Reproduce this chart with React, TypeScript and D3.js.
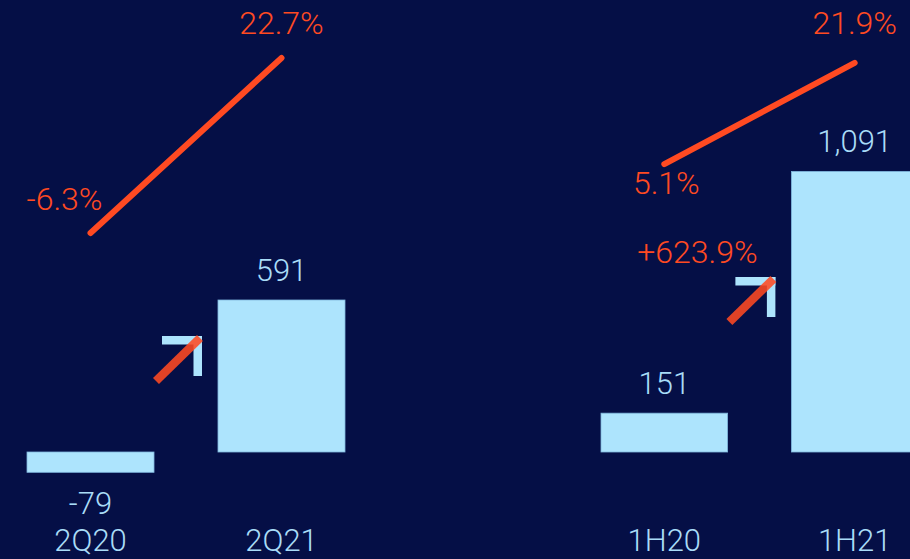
import React from "react";
import * as d3 from "d3";

// ---- data ----
const leftCategories = ["2Q20", "2Q21"];
const leftValues = [-79, 591];
const leftMargins = [-6.3, 22.7];
const leftValueLabels = ["-79", "591"];
const leftMarginLabels = ["-6.3%", "22.7%"];

const rightCategories = ["1H20", "1H21"];
const rightValues = [151, 1091];
const rightMargins = [5.1, 21.9];
const rightValueLabels = ["151", "1,091"];
const rightMarginLabels = ["5.1%", "21.9%"];
const rightGrowthLabel = "+623.9%";

const W = 910;
const H = 559;
const BG = "#050f46";
const BAR = "#ade4fd";
const BAR_STROKE = "#7fb6dc";
const TEXT = "#a9dcf7";
const RED = "#ff4a22";
const FONT = "Roboto, 'Liberation Sans', Arial, sans-serif";
const FW = 300;
const FS = 32;
const FS_SMALL = 31;

// shared scales
const yBar = d3.scaleLinear().domain([0, 591]).range([452, 300]);
const yLine = d3.scaleLinear().domain([-6.3, 22.7]).range([233, 58]);

type Panel = {
  cats: string[];
  vals: number[];
  margins: number[];
  valLabels: string[];
  marginLabels: string[];
  range: [number, number];
  marginLabelPos: { dx: number; dy: number; anchor: string }[];
  arrowDy: number;
  growth?: string;
};

const panels: Panel[] = [
  {
    cats: leftCategories,
    vals: leftValues,
    margins: leftMargins,
    valLabels: leftValueLabels,
    marginLabels: leftMarginLabels,
    range: [27, 345],
    marginLabelPos: [
      { dx: -26, dy: -23, anchor: "middle" },
      { dx: 0, dy: -24, anchor: "middle" },
    ],
    arrowDy: 336,
  },
  {
    cats: rightCategories,
    vals: rightValues,
    margins: rightMargins,
    valLabels: rightValueLabels,
    marginLabels: rightMarginLabels,
    range: [601, 918],
    marginLabelPos: [
      { dx: 2, dy: 30, anchor: "middle" },
      { dx: 0, dy: -29, anchor: "middle" },
    ],
    arrowDy: 277,
    growth: rightGrowthLabel,
  },
];

function PanelView({ p }: { p: Panel }) {
  const x = d3
    .scaleBand<string>()
    .domain(p.cats)
    .range(p.range)
    .paddingInner(0.335)
    .paddingOuter(0);
  const bw = x.bandwidth();
  const cx = (c: string) => (x(c) as number) + bw / 2;
  const line = d3
    .line<number>()
    .x((_, i) => cx(p.cats[i]))
    .y((d) => yLine(d));

  const gapRight = x(p.cats[1]) as number;
  const ax = gapRight - 16; // corner x
  const ay = p.arrowDy; // corner y
  const arrowSize = 40;
  const thick = 8.5;

  return (
    <g>
      {p.vals.map((v, i) => {
        const y0 = yBar(0);
        const y1 = yBar(v);
        return (
          <rect
            key={p.cats[i]}
            x={x(p.cats[i])}
            y={Math.min(y0, y1)}
            width={bw}
            height={Math.abs(y1 - y0)}
            fill={BAR}
            stroke={BAR_STROKE}
            strokeWidth={0.8}
          />
        );
      })}
      {p.vals.map((v, i) => {
        const y1 = yBar(v);
        const y = v >= 0 ? y1 - 19 : y1 + 42;
        return (
          <text
            key={"v" + i}
            x={cx(p.cats[i])}
            y={y}
            textAnchor="middle"
            fill={TEXT}
            fontSize={FS_SMALL}
            fontWeight={FW}
            fontFamily={FONT}
          >
            {p.valLabels[i]}
          </text>
        );
      })}
      {p.cats.map((c) => (
        <text
          key={"c" + c}
          x={cx(c)}
          y={551}
          textAnchor="middle"
          fill={TEXT}
          fontSize={FS_SMALL}
          fontWeight={FW}
          fontFamily={FONT}
        >
          {c}
        </text>
      ))}
      <path
        d={line(p.margins) || ""}
        fill="none"
        stroke={RED}
        strokeWidth={6}
        strokeLinecap="round"
      />
      {p.margins.map((m, i) => {
        const pos = p.marginLabelPos[i];
        return (
          <text
            key={"m" + i}
            x={cx(p.cats[i]) + pos.dx}
            y={yLine(m) + pos.dy}
            textAnchor={pos.anchor as any}
            fill={RED}
            fontSize={FS}
            fontWeight={FW}
            fontFamily={FONT}
          >
            {p.marginLabels[i]}
          </text>
        );
      })}
      <rect x={ax - arrowSize} y={ay} width={arrowSize} height={thick} fill={BAR} />
      <rect x={ax - thick} y={ay} width={thick} height={arrowSize} fill={BAR} />
      <line
        x1={ax - 46}
        y1={ay + 45}
        x2={ax - 2}
        y2={ay + 2}
        stroke={RED}
        strokeOpacity={0.88}
        strokeWidth={8.5}
      />
      {p.growth && (
        <text
          x={ax - 78}
          y={ay - 14}
          textAnchor="middle"
          fill={RED}
          fontSize={FS}
          fontWeight={FW}
          fontFamily={FONT}
        >
          {p.growth}
        </text>
      )}
    </g>
  );
}

export default function App() {
  return (
    <svg
      width={W}
      height={H}
      style={{ position: "absolute", left: 0, top: 0, display: "block" }}
    >
      <rect x={0} y={0} width={W} height={H} fill={BG} />
      {panels.map((p, i) => (
        <PanelView key={i} p={p} />
      ))}
    </svg>
  );
}
